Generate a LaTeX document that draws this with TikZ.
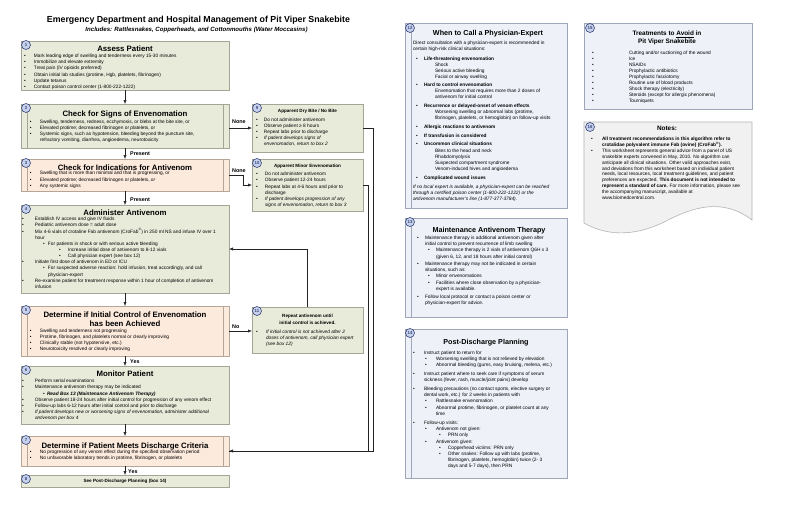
\documentclass[tikz,border=0pt]{standalone}
\usepackage{fontspec}
\setmainfont{Liberation Sans}
\usetikzlibrary{arrows.meta}
\definecolor{gfill}{HTML}{E9EBDA}
\definecolor{gdraw}{HTML}{A3A595}
\definecolor{pfill}{HTML}{FCEADD}
\definecolor{pdraw}{HTML}{B5A697}
\definecolor{bfill}{HTML}{EEF1F8}
\definecolor{bdraw}{HTML}{A0A6BA}
\definecolor{nfill}{HTML}{F1F1F1}
\definecolor{ndraw}{HTML}{B4B4B4}
\definecolor{cfill}{HTML}{C8D1EC}
\definecolor{cdraw}{HTML}{34447A}
\definecolor{lnk}{HTML}{222222}
\newcommand\LI[3]{\mbox{\makebox[0pt][l]{\hspace*{#1pt}\textbullet}\hspace*{#2pt}#3}\par}
\newcommand\LC[2]{\mbox{\hspace*{#1pt}#2}\par}
\newcommand\GAP[1]{\vspace{#1pt}}
\newcommand\bodyfont[1]{\fontsize{4.8}{#1}\selectfont}
\begin{document}
\begin{tikzpicture}[x=1pt,y=-1pt,
  boxg/.style={draw=gdraw,fill=gfill,line width=0.6pt,inner sep=0,outer sep=0,anchor=north west},
  boxp/.style={boxg,draw=pdraw,fill=pfill},
  boxb/.style={boxg,draw=bdraw,fill=bfill},
  numc/.style={circle,draw=cdraw,fill=cfill,line width=0.6pt,minimum size=9pt,inner sep=0,font=\fontsize{4.3}{4.3}\selectfont\bfseries,text=cdraw},
  ttl/.style={anchor=base,inner sep=0,font=\fontsize{7.8}{9}\selectfont\bfseries},
  ttr/.style={anchor=base,inner sep=0,font=\fontsize{7.2}{9}\selectfont\bfseries},
  ttm/.style={anchor=base,inner sep=0,font=\fontsize{6.4}{8}\selectfont\bfseries},
  tts/.style={anchor=base,inner sep=0,font=\fontsize{4.6}{5.5}\selectfont\bfseries},
  txt/.style={anchor=base west,inner sep=0,outer sep=0},
  lab/.style={anchor=base west,inner sep=0,font=\fontsize{5.4}{6}\selectfont\bfseries},
  arr/.style={draw=lnk,line width=0.6pt,-{Latex[length=4pt,width=3.2pt]}},
  conn/.style={draw=lnk,line width=0.6pt},
  inl/.style={line width=0.5pt}
]
\path[use as bounding box,fill=white] (0,0) rectangle (785,507);

% ---------- titles
\node[anchor=base,inner sep=0,font=\fontsize{8.8}{10}\selectfont\bfseries] (mt) at (198.5,22.5) {Emergency Department and Hospital Management of Pit Viper Snakebite};
\node[anchor=base,inner sep=0,font=\fontsize{6.1}{7}\selectfont\bfseries\itshape] (st) at (196.5,31) {Includes: Rattlesnakes, Copperheads, and Cottonmouths (Water Moccasins)};

% ---------- boxes
\node[boxg,minimum width=208pt,minimum height=49pt] (b1) at (21,41) {};
\node[boxg,minimum width=208pt,minimum height=44pt] (b2) at (21,104) {};
\node[boxp,minimum width=208pt,minimum height=32pt] (b3) at (21,159) {};
\node[boxg,minimum width=208pt,minimum height=88pt] (b4) at (21,205) {};
\node[boxp,minimum width=208pt,minimum height=50pt] (b5) at (21,306) {};
\node[boxg,minimum width=208pt,minimum height=58pt] (b6) at (21,366) {};
\node[boxp,minimum width=208pt,minimum height=30pt] (b7) at (21,436) {};
\node[boxg,minimum width=208pt,minimum height=12pt] (b8) at (21,475) {};
\node[boxg,minimum width=111pt,minimum height=48pt] (b9) at (252,104) {};
\node[boxg,minimum width=111pt,minimum height=52pt] (b10) at (252,159) {};
\node[boxg,minimum width=111pt,minimum height=46pt] (b11) at (252,307) {};
\node[boxb,minimum width=162pt,minimum height=185pt] (b12) at (405,23) {};
\node[boxb,minimum width=162pt,minimum height=99pt] (b13) at (405,218) {};
\node[boxb,minimum width=162pt,minimum height=149pt] (b14) at (405,329) {};
\node[boxb,minimum width=168pt,minimum height=86pt] (b15) at (584,23) {};
\path[draw=ndraw,fill=nfill,line width=0.6pt] (584,122) -- (752,122) -- (752,220)
  .. controls (722,197) and (692,208) .. (668,220)
  .. controls (640,235) and (610,238) .. (584,223) -- cycle;
\coordinate (b16) at (584,122);

% inner side lines of decision boxes
\foreach \b/\c in {b2/gdraw,b3/pdraw,b5/pdraw,b7/pdraw}{
  \draw[\c,inl] ([xshift=6pt]\b.north west) -- ([xshift=6pt]\b.south west);
  \draw[\c,inl] ([xshift=-6pt]\b.north east) -- ([xshift=-6pt]\b.south east);
}
\foreach \b in {b12,b13,b14}{
  \draw[bdraw,inl] ([xshift=6pt]\b.north west) -- ([xshift=6pt]\b.south west);
}

% ---------- number circles
\node[numc] (c1) at (26,45) {1};
\node[numc] (c2) at (26,108) {2};
\node[numc] (c3) at (26,163) {3};
\node[numc] (c4) at (26,209) {4};
\node[numc] (c5) at (26,310) {5};
\node[numc] (c6) at (26,370) {6};
\node[numc] (c7) at (26,440) {7};
\node[numc] (c8) at (26,479) {8};
\node[numc] (c9) at (257,108) {9};
\node[numc] (c10) at (257,163) {10};
\node[numc] (c11) at (257,311) {11};
\node[numc] (c12) at (410,28) {12};
\node[numc] (c13) at (410,222) {13};
\node[numc] (c14) at (410,333) {14};
\node[numc] (c15) at (590,28) {15};
\node[numc] (c16) at (590,127) {16};

% ---------- box 1
\node[ttl] (h1) at (125,51) {Assess Patient};
\node[txt] (t1) at (21,57.7) {\parbox[t]{208pt}{\bodyfont{6.1}
\LI{3}{13}{Mark leading edge of swelling and tenderness every 15-30 minutes}
\LI{3}{13}{Immobilize and elevate extremity}
\LI{3}{13}{Treat pain (IV opioids preferred)}
\LI{3}{13}{Obtain initial lab studies (protime, Hgb, platelets, fibrinogen)}
\LI{3}{13}{Update tetanus}
\LI{3}{13}{Contact poison control center (1-800-222-1222)}}};

% ---------- box 2
\node[ttl] (h2) at (125,116) {Check for Signs of Envenomation};
\node[txt] (t2) at (21,123.7) {\parbox[t]{208pt}{\bodyfont{6}
\LI{9}{19}{Swelling, tenderness, redness, ecchymosis, or blebs at the bite site, or}
\LI{9}{19}{Elevated protime; decreased fibrinogen or platelets, or}
\LI{9}{19}{Systemic signs, such as hypotension, bleeding beyond the puncture site,}
\LC{19}{refractory vomiting, diarrhea, angioedema, neurotoxicity}}};

% ---------- box 3
\node[ttl] (h3) at (125,170) {Check for Indications for Antivenom};
\node[txt] (t3) at (21,174.7) {\parbox[t]{208pt}{\bodyfont{6.3}
\LI{9}{19}{Swelling that is more than minimal and that is progressing, or}
\LI{9}{19}{Elevated protime; decreased fibrinogen or platelets, \textit{or}}
\LI{9}{19}{Any systemic signs}}};

% ---------- box 4
\node[ttl] (h4) at (125,215) {Administer Antivenom};
\node[txt] (t4) at (21,220.7) {\parbox[t]{208pt}{\bodyfont{6.15}
\LI{1}{14}{Establish IV access and give IV fluids}
\LI{1}{14}{Pediatric antivenom dose = adult dose}
\LI{1}{14}{Mix 4-6 vials of crotaline Fab antivenom (CroFab\textsuperscript{®}) in 250 ml NS and infuse IV over 1}
\LC{14}{hour}
\LI{22}{27}{For patients in shock or with serious active bleeding}
\LI{38}{47}{Increase initial dose of antivenom to 8-12 vials}
\LI{38}{47}{Call physician expert (see box 12)}
\LI{1}{14}{Initiate first dose of antivenom in ED or ICU}
\LI{22}{27}{For suspected adverse reaction: hold infusion, treat accordingly, and call}
\LC{27}{physician-expert}
\LI{1}{14}{Re-examine patient for treatment response within 1 hour of completion of antivenom}
\LC{14}{infusion}}};

% ---------- box 5
\node[ttl] (h5a) at (125,317) {Determine if Initial Control of Envenomation};
\node[ttl] (h5b) at (125,326) {has been Achieved};
\node[txt] (t5) at (21,332.7) {\parbox[t]{208pt}{\bodyfont{6}
\LI{9}{19}{Swelling and tenderness not progressing}
\LI{9}{19}{Protime, fibrinogen, and platelets normal or clearly improving}
\LI{9}{19}{Clinically stable (not hypotensive, etc.)}
\LI{9}{19}{Neurotoxicity resolved or clearly improving}}};

% ---------- box 6
\node[ttl] (h6) at (125,376) {Monitor Patient};
\node[txt] (t6) at (21,382.7) {\parbox[t]{208pt}{\bodyfont{6.17}
\LI{1}{14}{Perform serial examinations}
\LI{1}{14}{Maintenance antivenom therapy may be indicated}
\LI{22}{26}{\textbf{\textit{Read Box 13 (Maintenance Antivenom Therapy)}}}
\LI{1}{14}{Observe patient 18-24 hours after initial control for progression of any venom effect}
\LI{1}{14}{Follow-up labs 6-12 hours after initial control and prior to discharge}
\LI{1}{14}{\textit{If patient develops new or worsening signs of envenomation, administer additional}}
\LC{14}{\textit{antivenom per box 4}}}};

% ---------- box 7
\node[ttl] (h7) at (125,448) {Determine if Patient Meets Discharge Criteria};
\node[txt] (t7) at (21,453.7) {\parbox[t]{208pt}{\bodyfont{6}
\LI{9}{19}{No progression of any venom effect during the specified observation period}
\LI{9}{19}{No unfavorable laboratory trends in protime, fibrinogen, or platelets}}};

% ---------- box 8
\node[tts] (h8) at (125,482.7) {See Post-Discharge Planning (box 14)};

% ---------- box 9
\node[tts] (h9) at (307.5,112.8) {Apparent Dry Bite / No Bite};
\node[txt] (t9) at (252,121.7) {\parbox[t]{111pt}{\bodyfont{6}
\LI{4}{12}{Do not administer antivenom}
\LI{4}{12}{Observe patient ≥ 8 hours}
\LI{4}{12}{Repeat labs prior to discharge}
\LI{4}{12}{\textit{If patient develops signs of}}
\LC{12}{\textit{envenomation, return to box 2}}}};

% ---------- box 10
\node[tts] (h10) at (307.5,167) {Apparent Minor Envenomation};
\node[txt] (t10) at (252,175.7) {\parbox[t]{111pt}{\bodyfont{6.2}
\LI{4}{13}{Do not administer antivenom}
\LI{4}{13}{Observe patient 12-24 hours}
\LI{4}{13}{Repeat labs at 4-6 hours and prior to}
\LC{13}{discharge}
\LI{4}{13}{\textit{If patient develops progression of any}}
\LC{13}{\textit{signs of envenomation, return to box 3}}}};

% ---------- box 11
\node[tts] (h11a) at (307.5,317.8) {Repeat antivenom until};
\node[tts] (h11b) at (307.5,324.8) {initial control is achieved.};
\node[txt] (t11) at (252,333.7) {\parbox[t]{111pt}{\bodyfont{6}
\LI{4}{14}{\textit{If initial control is not achieved after 2}}
\LC{14}{\textit{doses of antivenom, call physician expert}}
\LC{14}{\textit{(see box 12)}}}};

% ---------- box 12
\node[ttr] (h12) at (488,35.6) {When to Call a Physician-Expert};
\node[txt] (t12) at (405,44.7) {\parbox[t]{162pt}{\bodyfont{6.1}
\LC{8}{Direct consultation with a physician-expert is recommended in}
\LC{8}{certain high-risk clinical situations:}
\GAP{3.1}
\LI{11}{19}{\textbf{Life-threatening envenomation}}
\LC{30}{Shock}
\LC{30}{Serious active bleeding}
\LC{30}{Facial or airway swelling}
\GAP{1.6}
\LI{11}{19}{\textbf{Hard to control envenomation}}
\LC{30}{Envenomation that requires more than 2 doses of}
\LC{30}{antivenom for initial control}
\GAP{2.7}
\LI{11}{19}{\textbf{Recurrence or delayed-onset of venom effects}}
\LC{30}{Worsening swelling or abnormal labs (protime,}
\LC{30}{fibrinogen, platelets, or hemoglobin) on follow-up visits}
\GAP{2.7}
\LI{11}{19}{\textbf{Allergic reactions to antivenom}}
\GAP{2.9}
\LI{11}{19}{\textbf{If transfusion is considered}}
\GAP{1.9}
\LI{11}{19}{\textbf{Uncommon clinical situations}}
\GAP{0.9}
\LC{30}{Bites to the head and neck}
\LC{30}{Rhabdomyolysis}
\LC{30}{Suspected compartment syndrome}
\LC{30}{Venom-induced hives and angioedema}
\GAP{2.6}
\LI{11}{19}{\textbf{Complicated wound issues}}
\GAP{2.9}
\LC{8}{\textit{If no local expert is available, a physician-expert can be reached}}
\LC{8}{\textit{through a certified poison center (1-800-222-1222) or the}}
\LC{8}{\textit{antivenom manufacturer's line (1-877-377-3784).}}}};

% ---------- box 13
\node[ttr] (h13) at (489,232.6) {Maintenance Antivenom Therapy};
\node[txt] (t13) at (405,239.7) {\parbox[t]{162pt}{\bodyfont{6.1}
\LI{12}{20}{Maintenance therapy is additional antivenom given after}
\LC{20}{initial control to prevent recurrence of limb swelling}
\LI{23}{31}{Maintenance therapy is 2 vials of antivenom Q6H x 3}
\LC{31}{(given 6, 12, and 18 hours after initial control)}
\GAP{1.6}
\LI{12}{20}{Maintenance therapy may not be indicated in certain}
\LC{20}{situations, such as:}
\LI{23}{31}{Minor envenomations}
\LI{23}{31}{Facilities where close observation by a physician-}
\LC{31}{expert is available.}
\GAP{2.5}
\LI{12}{20}{Follow local protocol or contact a poison center or}
\LC{20}{physician-expert for advice.}}};

% ---------- box 14
\node[ttr] (h14) at (486,344.6) {Post-Discharge Planning};
\node[txt] (t14) at (405,354.7) {\parbox[t]{162pt}{\bodyfont{6.1}
\LI{8}{19}{Instruct patient to return for}
\LI{20}{31}{Worsening swelling that is not relieved by elevation}
\LI{20}{31}{Abnormal bleeding (gums, easy bruising, melena, etc.)}
\GAP{2.7}
\LI{8}{19}{Instruct patient where to seek care if symptoms of serum}
\LC{19}{sickness (fever, rash, muscle/joint pains) develop}
\GAP{2.8}
\LI{8}{19}{Bleeding precautions (no contact sports, elective surgery or}
\LC{19}{dental work, etc.) for 2 weeks in patients with}
\LI{20}{31}{Rattlesnake envenomation}
\LI{20}{31}{Abnormal protime, fibrinogen, or platelet count at any}
\LC{31}{time}
\GAP{3.5}
\LI{8}{19}{Follow-up visits:}
\LI{20}{31}{Antivenom not given:}
\LI{34}{43}{PRN only}
\LI{20}{31}{Antivenom given:}
\LI{34}{43}{Copperhead victims: PRN only}
\LI{34}{43}{Other snakes: Follow up with labs (protime,}
\LC{43}{fibrinogen, platelets, hemoglobin) twice (2- 3}
\LC{43}{days and 5-7 days), then PRN}}};

% ---------- box 15
\node[ttm] (h15a) at (667,35.5) {Treatments to \underline{Avoid} in};
\node[ttm] (h15b) at (667,43.5) {Pit Viper Snakebite};
\node[txt] (t15) at (584,54.7) {\parbox[t]{168pt}{\bodyfont{6}
\LI{8}{45}{Cutting and/or suctioning of the wound}
\LI{8}{45}{Ice}
\LI{8}{45}{NSAIDs}
\LI{8}{45}{Prophylactic antibiotics}
\LI{8}{45}{Prophylactic fasciotomy}
\LI{8}{45}{Routine use of blood products}
\LI{8}{45}{Shock therapy (electricity)}
\LI{8}{45}{Steroids (except for allergic phenomena)}
\LI{8}{45}{Tourniquets}}};

% ---------- box 16
\node[ttm] (h16) at (667,130.5) {Notes:};
\node[txt] (t16) at (584,140.7) {\parbox[t]{168pt}{\bodyfont{5.8}
\LI{7}{18}{\textbf{All treatment recommendations in this algorithm refer to}}
\LC{18}{\textbf{crotalidae polyvalent immune Fab (ovine) (CroFab\textsuperscript{®}).}}
\GAP{0.4}
\LI{7}{18}{This worksheet represents general advice from a panel of US}
\LC{18}{snakebite experts convened in May, 2010. No algorithm can}
\LC{18}{anticipate all clinical situations. Other valid approaches exist,}
\LC{18}{and deviations from this worksheet based on individual patient}
\LC{18}{needs, local resources, local treatment guidelines, and patient}
\LC{18}{preferences are expected. \textbf{This document is not intended to}}
\LC{18}{\textbf{represent a standard of care.} For more information, please see}
\LC{18}{the accompanying manuscript, available at}
\LC{18}{www.biomedcentral.com.}}};

% ---------- connectors
\draw[arr] (b1.south) -- (b2.north);
\draw[arr] (b2.south) -- (b3.north);
\draw[arr] (b3.south) -- (b4.north);
\draw[arr] (b4.south) -- (b5.north);
\draw[arr] (b5.south) -- (b6.north);
\draw[arr] (b6.south) -- (b7.north);
\draw[arr] (b7.south) -- (b8.north);
\draw[arr] (b2.east |- b9.west) -- (b9.west);
\draw[arr] (b3.east) -- ++(14,0) |- (b10.west);
\draw[arr] (b5.east) -- (b11.west |- b5.east);
\draw[conn] (b10.east) -- ++(5,0) |- (b7.east);
\draw[arr] (b9.east) -- ++(10,0) |- (b7.east);
\draw[arr] (b11.north) |- (b4.east);

% ---------- connector labels
\node[lab] (lp1) at (130,155.5) {Present};
\node[lab] (lp2) at (130,201.5) {Present};
\node[lab] (ln1) at (232,123.5) {None};
\node[lab] (ln2) at (232,172.5) {None};
\node[lab] (lno) at (232,328) {No};
\node[lab] (ly1) at (130,363.5) {Yes};
\node[lab] (ly2) at (128,473) {Yes};
\end{tikzpicture}
\end{document}
